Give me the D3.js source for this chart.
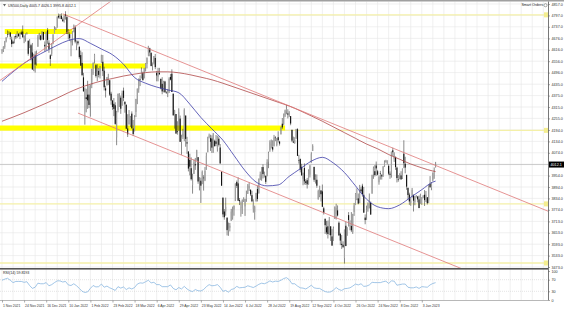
<!DOCTYPE html>
<html><head><meta charset="utf-8">
<script src="https://cdn.jsdelivr.net/npm/d3@7"></script>
<style>
html,body{margin:0;padding:0;background:#fff;overflow:hidden;}
svg{display:block;font-family:"Liberation Sans",Arial,sans-serif;}
</style></head><body>
<svg id="c" width="564" height="310"></svg>
<script>
// ---------- DATA ----------
const opens = [
4610,4613,4630,4662,4699,4701,4707,4670,4659,4656,4689,4680,4701,4700,4708,4712,4679,4675,4701,4664,4628,4640,
4602,4504,4589,4548,4632,4690,4691,4687,4710,4642,4636,4719,4653,4587,4595,4650,4703,4725,4733,4795,4788,4795,4776,
4778,4804,4788,4693,4698,4655,4670,4729,4734,4637,4660,4632,4588,4547,4471,4357,4366,4380,4380,4337,4431,
4519,4566,4535,4482,4505,4480,4548,4553,4506,4413,4429,4456,4456,4385,4349,4332,4324,4155,4298,4354,
4364,4322,4401,4343,4327,4202,4223,4253,4280,4202,4188,4289,4345,4407,4462,4469,4493,4469,4523,4541,4603,4624,4599,
4540,4547,4573,4494,4474,4494,4463,4437,4398,4449,4392,4385,4390,4473,4490,4385,4256,4278,4187,4223,4254,
4131,4159,4181,4270,4129,4081,4036,3993,3904,3963,4014,4053,4051,3900,3927,3920,3943,3929,3985,4077,4158,4151,
4149,4096,4137,4134,4096,4148,4102,3975,3838,3765,3765,3733,3665,3680,3716,3733,3775,3820,3920,3913,3825,3785,
3781,3825,3792,3831,3858,3889,3880,3851,3779,3763,3818,3883,3860,3935,3955,3999,3965,3953,3951,4027,4087,
4113,4104,4108,4154,4115,4156,4133,4171,4227,4225,4270,4291,4281,4273,4267,4195,4133,4126,4154,4198,4034,4041,4000,
3937,3994,3924,3930,3909,3959,4022,4084,4000,3940,3932,3830,3849,3876,3871,3782,3727,3682,3687,3651,3687,3634,
3610,3726,3753,3771,3706,3647,3595,3590,3520,3690,3638,3746,3689,3689,3657,3762,3799,3825,3834,3809,3881,
3901,3853,3733,3767,3780,3817,3810,3859,3963,3977,4007,3977,3919,3967,3956,3956,4000,4027,4023,4005,3964,3957,
4087,4041,4053,3996,3934,3947,3955,3939,4069,4016,3958,3890,3854,3810,3839,3853,3815,3845,3844,3829,3806,3829,
3840,3853,3840,3840,3823,3910,3889,3932,3977,4005.7];
const highs = [
4620,4635,4663,4683,4718,4714,4708,4685,4664,4688,4698,4714,4701,4708,4717,4744,4691,4702,4708,4664,4672,4646,
4652,4595,4608,4612,4694,4705,4695,4713,4710,4660,4712,4731,4666,4592,4651,4698,4740,4735,4791,4807,4804,4808,4786,
4797,4819,4798,4725,4708,4673,4714,4749,4745,4665,4665,4633,4612,4603,4495,4418,4411,4453,4429,4432,4516,
4550,4595,4542,4540,4521,4531,4590,4589,4527,4427,4472,4490,4456,4395,4352,4362,4340,4295,4385,4388,
4375,4401,4417,4343,4328,4277,4299,4268,4292,4247,4272,4358,4412,4465,4481,4523,4501,4521,4546,4575,4637,4627,4604,
4549,4583,4594,4504,4521,4521,4464,4472,4453,4453,4398,4410,4471,4489,4513,4386,4300,4278,4240,4308,4270,
4169,4200,4308,4270,4158,4081,4069,4050,3964,4039,4047,4090,4051,3946,3943,3981,3956,3999,4075,4158,4175,4169,
4166,4177,4143,4168,4164,4160,4120,3975,3838,3778,3838,3733,3707,3705,3779,3791,3796,3913,3928,3945,3836,3818,
3829,3840,3832,3875,3910,3919,3880,3874,3829,3796,3863,3902,3939,3975,3999,4013,3975,3954,4040,4080,4140,
4144,4140,4168,4161,4152,4187,4137,4211,4257,4280,4301,4325,4303,4293,4267,4195,4159,4156,4200,4203,4063,4044,4016,
3970,4018,3935,3942,3987,4010,4077,4119,4000,3961,3960,3880,3900,3876,3907,3790,3727,3716,3717,3736,3687,3672,
3686,3791,3806,3797,3713,3653,3641,3608,3670,3712,3683,3762,3719,3762,3753,3810,3862,3887,3860,3905,3893,
3911,3894,3750,3796,3813,3860,3818,3959,4002,4009,4028,3984,3955,3979,3962,4003,4034,4037,4035,4013,3976,4080,
4101,4077,4053,4001,3957,3966,3977,3991,4140,4053,3958,3890,3864,3838,3889,3853,3846,3852,3846,3849,3859,3840,
3852,3878,3873,3840,3906,3951,3919,3970,3997,4026.1];
const lows = [
4595,4604,4621,4655,4681,4694,4670,4630,4648,4650,4672,4679,4684,4672,4694,4680,4651,4659,4696,4585,4625,4560,
4510,4504,4496,4533,4632,4670,4665,4670,4667,4607,4612,4647,4600,4531,4583,4645,4703,4720,4733,4780,4778,4776,4765,
4759,4775,4699,4671,4663,4582,4639,4708,4650,4614,4640,4568,4531,4477,4395,4222,4287,4305,4309,4264,4414,
4484,4544,4470,4451,4471,4465,4548,4478,4402,4365,4429,4430,4373,4327,4300,4267,4221,4114,4287,4315,
4279,4322,4346,4285,4199,4157,4223,4210,4200,4162,4187,4262,4330,4390,4425,4465,4455,4465,4502,4518,4582,4582,4531,
4507,4539,4514,4450,4450,4483,4408,4382,4392,4392,4384,4367,4390,4455,4394,4268,4201,4175,4169,4189,4131,
4063,4147,4135,4106,4068,3976,3955,3928,3859,3962,3984,4033,3911,3876,3810,3909,3875,3925,3985,4077,4150,4084,
4073,4074,4107,4109,4080,4107,4017,3900,3735,3722,3743,3639,3637,3660,3716,3722,3743,3820,3889,3820,3799,3738,
3752,3815,3742,3816,3858,3873,3847,3814,3759,3722,3818,3818,3860,3930,3927,3939,3944,3910,3951,3993,4079,
4097,4080,4108,4135,4108,4128,4112,4171,4200,4219,4262,4277,4255,4263,4219,4130,4125,4121,4147,4057,4017,3971,3954,
3903,3907,3905,3886,3906,3944,4022,4084,3921,3912,3890,3827,3840,3818,3789,3749,3647,3644,3623,3641,3610,3584,
3610,3726,3723,3739,3636,3588,3568,3575,3491,3584,3638,3686,3666,3657,3647,3742,3799,3825,3803,3809,3863,
3843,3758,3698,3721,3764,3781,3748,3859,3937,3949,3953,3955,3906,3933,3933,3947,3999,4022,4013,3956,3937,3943,
4057,4026,3984,3918,3922,3935,3933,3936,3993,3966,3879,3828,3800,3795,3839,3765,3798,3838,3813,3783,3806,3800,
3835,3794,3815,3802,3809,3890,3877,3924,3937,3995.8];
const closes = [
4613,4631,4660,4680,4697,4702,4685,4646,4649,4683,4682,4701,4688,4705,4698,4682,4690,4701,4704,4595,4655,4567,
4513,4577,4538,4592,4686,4701,4668,4712,4669,4634,4709,4668,4621,4568,4649,4697,4725,4728,4791,4786,4793,4778,4766,
4797,4794,4701,4696,4677,4670,4713,4726,4659,4663,4650,4577,4533,4483,4398,4410,4357,4350,4326,4432,4516,
4546,4589,4478,4500,4484,4522,4587,4504,4419,4402,4472,4475,4380,4349,4315,4305,4226,4288,4385,4374,
4306,4387,4363,4329,4201,4171,4278,4260,4204,4173,4262,4357,4412,4463,4461,4512,4456,4520,4543,4575,4632,4602,4530,
4546,4583,4525,4481,4500,4488,4413,4397,4447,4392,4390,4391,4463,4459,4394,4272,4296,4175,4183,4288,4132,
4155,4175,4300,4147,4123,3991,4001,3935,3930,4023,4008,4088,3923,3901,3901,3974,3941,3979,4058,4158,4165,4132,
4101,4177,4109,4121,4161,4116,4018,3901,3750,3735,3790,3667,3675,3690,3765,3760,3796,3912,3900,3822,3819,3785,
3825,3830,3831,3845,3903,3899,3855,3819,3802,3790,3863,3831,3937,3960,3999,3962,3967,3921,4024,4073,4130,
4119,4091,4155,4152,4145,4140,4122,4210,4208,4280,4297,4305,4275,4284,4228,4138,4128,4141,4199,4058,4031,3986,3955,
3967,3924,3915,3908,3980,4006,4067,4110,3932,3946,3901,3873,3900,3856,3790,3758,3693,3655,3647,3719,3640,3586,
3678,3791,3783,3744,3640,3612,3589,3577,3669,3583,3677,3720,3695,3666,3752,3797,3859,3830,3807,3901,3872,
3856,3759,3720,3771,3807,3828,3749,3957,3993,3957,3992,3959,3947,3965,3950,4003,4027,4032,4026,3964,3958,4080,
4077,4071,3999,3941,3933,3964,3934,3991,4019,3996,3896,3852,3818,3821,3879,3822,3845,3848,3829,3783,3849,3840,
3846,3825,3853,3809,3895,3893,3919,3970,3983,4012.1];

const dateLabels = ["1 Nov 2021","24 Nov 2021","16 Dec 2021","10 Jan 2022","1 Feb 2022","23 Feb 2022",
  "18 Mar 2022","6 Apr 2022","29 Apr 2022","23 May 2022","14 Jun 2022","6 Jul 2022","28 Jul 2022",
  "19 Aug 2022","12 Sep 2022","4 Oct 2022","26 Oct 2022","24 Nov 2022","8 Dec 2022","3 Jan 2023"];
const priceTicks = [4857.0,4797.0,4737.0,4676.0,4616.0,4556.0,4496.0,4435.0,4375.0,4315.0,4255.0,4194.0,
  4134.0,4074.0,4014.0,3954.0,3894.0,3834.0,3774.0,3713.0,3653.0,3593.0,3533.0,3473.0];
const rsiTicks = [100,70,30,0];

// moving averages sampled every 8 bars (bar index -> value)
const maIdx  = [0,8,16,24,32,40,48,56,64,72,80,88,96,104,112,120,128,136,144,152,160,168,176,184,192,200,208,216,224,232,240,248,256,264,272,280,288,296,304,312,314];
const ma50   = [4450,4500,4545,4580,4610,4640,4665,4675,4650,4620,4590,4540,4470,4440,4420,4405,4390,4330,4260,4200,4140,4060,3980,3920,3900,3905,3950,3990,4030,4050,4020,3970,3900,3830,3790,3780,3800,3840,3880,3920,3925];
const ma200  = [4240,4262,4285,4310,4335,4362,4390,4415,4435,4452,4465,4478,4488,4496,4500,4500,4495,4485,4472,4458,4440,4420,4400,4380,4360,4340,4320,4295,4268,4240,4210,4180,4150,4120,4095,4065,4040,4015,3995,3978,3975];

// RSI(14) sampled every 2 bars (last point = last bar)
const rsiVal = [
68,72,75,68,60,64,64,64,61,63, 50,40,44,58,56,56,60,49,53,60,
66,66,62,64,52,50,56,49,40,30, 26,28,40,50,45,46,55,44,48,42,
38,33,46,41,45,36,42,38,43,55, 59,58,63,68,59,61,53,53,46,46,
46,52,40,35,43,38,47,38,32,29, 36,32,31,36,46,53,49,50,53,44,
30,33,27,36,39,47,42,43,44,49, 46,43,48,54,58,56,60,66,62,65,
64,68,74,77,70,56,56,48,42,41, 38,44,51,42,40,40,34,29,27,28,
34,43,36,33,39,40,42,48,55,52, 56,47,48,52,61,60,60,60,63,65,
57,66,65,51,53,55,55,44,42,42, 45,40,46,45,44,52,57,59.8];
const rsiIdx = d3.range(0, 313, 2).concat([314]);

// horizontal levels (price) and trend lines (bar index, price)
const thinLevels = [4800, 4192, 3805, 3494];
const bandLevels = [{p:4712,i0:2,i1:51},{p:4531,i0:-2,i1:104},{p:4204,i0:-2,i1:205}];
const trendUp    = [{i:-2,p:4452},{i:80,p:4878}];
const chanUpper  = [{i:44,p:4805},{i:396,p:3765}];
const chanLower  = [{i:55,p:4283},{i:335,p:3458}];

// ---------- DRAW ----------
const svg = d3.select("#c");
const R = 548, mainB = 268, rsiBot = 300;
const x = d3.scaleLinear().domain([0, 395.4]).range([2, R]);
const y = d3.scaleLinear().domain([3473, 4857]).range([267, 4]);
const yr = d3.scaleLinear().domain([0, 100]).range([300, 271]);

svg.append("defs").append("clipPath").attr("id","mainclip")
  .append("rect").attr("x",0).attr("y",1.5).attr("width",R).attr("height",mainB-1.5);

// grid
const grid = svg.append("g");
grid.selectAll(".vg").data(d3.range(0, 396, 8)).join("line")
  .attr("x1",d=>x(d)).attr("x2",d=>x(d)).attr("y1",1.5).attr("y2",rsiBot)
  .attr("stroke","#e6e6e6").attr("stroke-width",0.6);
grid.selectAll(".hg").data(priceTicks).join("line")
  .attr("x1",0).attr("x2",R).attr("y1",d=>y(d)).attr("y2",d=>y(d))
  .attr("stroke","#e6e6e6").attr("stroke-width",0.6);

const main = svg.append("g").attr("clip-path","url(#mainclip)");
main.selectAll(".tl").data(thinLevels).join("line")
  .attr("x1",0).attr("x2",R).attr("y1",d=>y(d)).attr("y2",d=>y(d))
  .attr("stroke","#f4f0a8").attr("stroke-width",1.3);
main.selectAll(".bl").data(bandLevels).join("line")
  .attr("x1",d=>x(d.i0)).attr("x2",d=>x(d.i1)).attr("y1",d=>y(d.p)).attr("y2",d=>y(d.p))
  .attr("stroke","#ffff00").attr("stroke-width",5);

const cp = closes[closes.length-1];
main.append("line").attr("x1",0).attr("x2",R).attr("y1",y(cp)).attr("y2",y(cp))
  .attr("stroke","#b0b0b0").attr("stroke-width",0.6);

// candles
const bars = d3.range(closes.length);
main.selectAll(".wk").data(bars).join("line")
  .attr("x1",i=>x(i)).attr("x2",i=>x(i)).attr("y1",i=>y(highs[i])).attr("y2",i=>y(lows[i]))
  .attr("stroke","#2a2a2a").attr("stroke-width",0.55);
main.selectAll(".bd").data(bars).join("rect")
  .attr("x",i=>x(i)-0.55).attr("width",1.1)
  .attr("y",i=>y(Math.max(opens[i],closes[i])))
  .attr("height",i=>Math.max(0.5, Math.abs(y(opens[i])-y(closes[i]))))
  .attr("fill",i=>closes[i]>=opens[i]?"#a0a0a0":"#111");

// moving averages
const ln = d3.line().curve(d3.curveMonotoneX);
main.append("path").attr("d", ln(maIdx.map((d,k)=>[x(d), y(ma200[k])])))
  .attr("fill","none").attr("stroke","#b04848").attr("stroke-width",0.8);
main.append("path").attr("d", ln(maIdx.map((d,k)=>[x(d), y(ma50[k])])))
  .attr("fill","none").attr("stroke","#3c3ca8").attr("stroke-width",0.8);

// trend lines
const seg = a => [[x(a[0].i),y(a[0].p)],[x(a[1].i),y(a[1].p)]];
[trendUp, chanUpper, chanLower].forEach(t=>{
  main.append("path").attr("d", d3.line()(seg(t)))
    .attr("fill","none").attr("stroke","#e07878").attr("stroke-width",0.8);
});

// frame
svg.append("rect").attr("x",0).attr("y",0).attr("width",564).attr("height",1.5).attr("fill","#a0a0a0");
svg.append("rect").attr("x",0).attr("y",mainB).attr("width",R).attr("height",1.6).attr("fill","#555");
svg.append("line").attr("x1",0).attr("x2",R).attr("y1",rsiBot+0.5).attr("y2",rsiBot+0.5).attr("stroke","#888").attr("stroke-width",0.6);

// RSI
const rs = svg.append("g");
rs.selectAll(".rl").data([70,30]).join("line")
  .attr("x1",0).attr("x2",R).attr("y1",d=>yr(d)).attr("y2",d=>yr(d))
  .attr("stroke","#c8c8c8").attr("stroke-width",0.5).attr("stroke-dasharray","1,1");
rs.append("path").attr("d", d3.line()(rsiIdx.map((d,k)=>[x(d), yr(rsiVal[k])])))
  .attr("fill","none").attr("stroke","#7aaedc").attr("stroke-width",0.7);
rs.append("text").attr("x",3).attr("y",274).attr("font-size",3.6).attr("fill","#222").text("RSI(14) 59.8193");

svg.append("line").attr("x1",R+0.5).attr("x2",R+0.5).attr("y1",1.5).attr("y2",rsiBot+0.5)
  .attr("stroke","#555").attr("stroke-width",0.8);

svg.selectAll(".lm").data(thinLevels).join("rect")
  .attr("x",R-4).attr("width",4).attr("y",d=>y(d)-2.5).attr("height",5).attr("fill","#f4ee90");

const ay = d3.axisRight(y).tickValues(priceTicks).tickSize(1.5).tickPadding(1.5).tickFormat(d=>d.toFixed(1));
const gy = svg.append("g").attr("transform",`translate(${R+0.5},0)`).call(ay);
gy.select(".domain").remove();
gy.selectAll("text").attr("font-size",3.7).attr("fill","#333").attr("font-family","Liberation Sans, Arial, sans-serif");
gy.selectAll("line").attr("stroke","#555").attr("stroke-width",0.5);

const ar = d3.axisRight(yr).tickValues(rsiTicks).tickSize(1.5).tickPadding(1.5);
const gr = svg.append("g").attr("transform",`translate(${R+0.5},0)`).call(ar);
gr.select(".domain").remove();
gr.selectAll("text").attr("font-size",3.7).attr("fill","#333").attr("font-family","Liberation Sans, Arial, sans-serif");
gr.selectAll("line").attr("stroke","#555").attr("stroke-width",0.5);

svg.append("rect").attr("x",R+1).attr("y",y(cp)-3).attr("width",15).attr("height",6).attr("fill","#000");
svg.append("text").attr("x",R+2.5).attr("y",y(cp)+1.4).attr("font-size",3.7).attr("fill","#fff").text(cp.toFixed(1));

const ax = d3.axisBottom(x).tickValues(dateLabels.map((d,k)=>k*16)).tickSize(2).tickFormat((d,k)=>dateLabels[k]);
const gx = svg.append("g").attr("transform",`translate(0,${rsiBot+0.5})`).call(ax);
gx.select(".domain").remove();
gx.selectAll("text").attr("font-size",3.4).attr("fill","#333").attr("text-anchor","start")
  .attr("dx",0.5).attr("y",4).attr("dy","0.71em").attr("font-family","Liberation Sans, Arial, sans-serif");
gx.selectAll("line").attr("stroke","#555").attr("stroke-width",0.5);

svg.append("path").attr("d","M3,4 L6,4 L4.5,6.5 Z").attr("fill","#666");
svg.append("text").attr("x",8).attr("y",6.6).attr("font-size",3.6).attr("fill","#222")
  .text("US500,Daily  4005.7 4026.1 3995.8 4012.1");
svg.append("text").attr("x",543).attr("y",6.4).attr("font-size",3.6).attr("fill","#222")
  .attr("text-anchor","end").text("Smart Orders");
svg.append("circle").attr("cx",545.5).attr("cy",5.2).attr("r",1.6).attr("fill","none").attr("stroke","#555").attr("stroke-width",0.5);
</script>
</body></html>
